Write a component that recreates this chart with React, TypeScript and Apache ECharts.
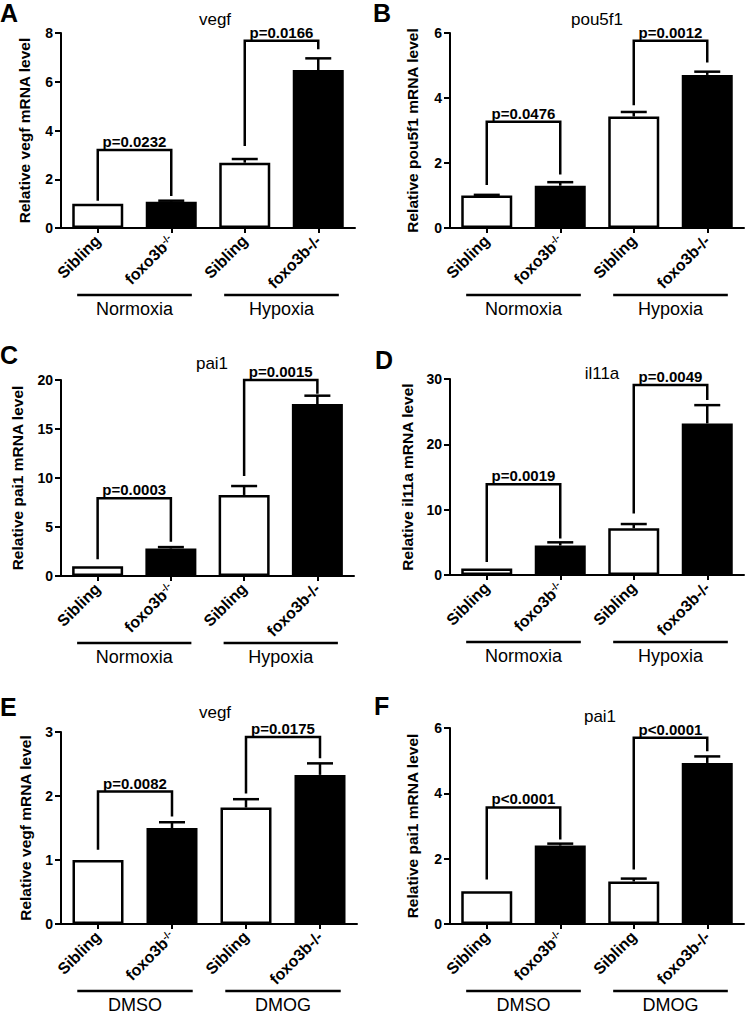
import React, { useEffect, useRef } from 'react';
import * as echarts from 'echarts';

const FONT = '"Liberation Sans", Arial, Helvetica, sans-serif';

// Shared category labels (main text + superscript part)
const xLabelMain = ['Sibling', 'foxo3b', 'Sibling', 'foxo3b-/-'];
const xLabelSup = ['', '-/-', '', ''];
const categories = xLabelMain.map((m, i) => m + xLabelSup[i]);
const groupSpans = [[0, 1], [2, 3]];
const hypoxiaGroups = ['Normoxia', 'Hypoxia'];
const drugGroups = ['DMSO', 'DMOG'];

// Panel A – vegf (Normoxia / Hypoxia)
const aTitle = 'vegf';
const aYName = 'Relative vegf mRNA level';
const aAxis = [0, 8, 2]; // min, max, interval
const aMeans = [1.0, 1.08, 2.68, 6.48];
const aUpper = [1.0, 1.12, 2.83, 6.96];
const aPLabels = ['p=0.0232', 'p=0.0166'];
const aBrackets = [[0, 1, 3.2, 1.12, 1.31], [2, 3, 7.68, 3.36, 7.33]];

// Panel B – pou5f1
const bTitle = 'pou5f1';
const bYName = 'Relative pou5f1 mRNA level';
const bAxis = [0, 6, 2];
const bMeans = [1.0, 1.3, 3.43, 4.71];
const bUpper = [1.02, 1.41, 3.57, 4.81];
const bPLabels = ['p=0.0476', 'p=0.0012'];
const bBrackets = [[0, 1, 3.27, 1.32, 1.65], [2, 3, 5.76, 3.78, 5.09]];

// Panel C – pai1
const cTitle = 'pai1';
const cYName = 'Relative pai1 mRNA level';
const cAxis = [0, 20, 5];
const cMeans = [1.0, 2.8, 8.27, 17.55];
const cUpper = [1.0, 2.95, 9.18, 18.4];
const cPLabels = ['p=0.0003', 'p=0.0015'];
const cBrackets = [[0, 1, 7.93, 1.7, 3.5], [2, 3, 20.0, 10.2, 18.6]];

// Panel D – il11a
const dTitle = 'il11a';
const dYName = 'Relative il11a mRNA level';
const dAxis = [0, 30, 10];
const dMeans = [1.0, 4.5, 7.15, 23.2];
const dUpper = [1.0, 5.0, 7.8, 26.0];
const dPLabels = ['p=0.0019', 'p=0.0049'];
const dBrackets = [[0, 1, 13.9, 2.0, 5.6], [2, 3, 29.1, 9.4, 26.8]];

// Panel E – vegf (DMSO / DMOG)
const eTitle = 'vegf';
const eYName = 'Relative vegf mRNA level';
const eAxis = [0, 3, 1];
const eMeans = [1.0, 1.5, 1.82, 2.33];
const eUpper = [1.0, 1.59, 1.95, 2.51];
const ePLabels = ['p=0.0082', 'p=0.0175'];
const eBrackets = [[0, 1, 2.07, 1.16, 1.68], [2, 3, 2.92, 2.04, 2.59]];

// Panel F – pai1 (DMSO / DMOG)
const fTitle = 'pai1';
const fYName = 'Relative pai1 mRNA level';
const fAxis = [0, 6, 2];
const fMeans = [1.0, 2.4, 1.3, 4.93];
const fUpper = [1.0, 2.46, 1.39, 5.13];
const fPLabels = ['p<0.0001', 'p<0.0001'];
const fBrackets = [[0, 1, 3.57, 1.36, 2.59], [2, 3, 5.7, 1.67, 5.29]];

const panels = [
  { letter: 'A', title: aTitle, yName: aYName, axis: aAxis, means: aMeans, upper: aUpper, pLabels: aPLabels, brackets: aBrackets, groups: hypoxiaGroups,
    grid: { left: 61, top: 33, width: 294, height: 195 }, nameGap: 29, letterPos: [0, 13], titlePos: [215, 19] },
  { letter: 'B', title: bTitle, yName: bYName, axis: bAxis, means: bMeans, upper: bUpper, pLabels: bPLabels, brackets: bBrackets, groups: hypoxiaGroups,
    grid: { left: 450, top: 33, width: 294, height: 195 }, nameGap: 30, letterPos: [373, 13], titlePos: [597, 19] },
  { letter: 'C', title: cTitle, yName: cYName, axis: cAxis, means: cMeans, upper: cUpper, pLabels: cPLabels, brackets: cBrackets, groups: hypoxiaGroups,
    grid: { left: 61, top: 380, width: 293, height: 196 }, nameGap: 36, letterPos: [0, 355], titlePos: [212, 363] },
  { letter: 'D', title: dTitle, yName: dYName, axis: dAxis, means: dMeans, upper: dUpper, pLabels: dPLabels, brackets: dBrackets, groups: hypoxiaGroups,
    grid: { left: 450, top: 379, width: 294, height: 196 }, nameGap: 35, letterPos: [375, 360], titlePos: [602, 373] },
  { letter: 'E', title: eTitle, yName: eYName, axis: eAxis, means: eMeans, upper: eUpper, pLabels: ePLabels, brackets: eBrackets, groups: drugGroups,
    grid: { left: 61, top: 732, width: 296, height: 192 }, nameGap: 28, letterPos: [0, 707], titlePos: [215, 712] },
  { letter: 'F', title: fTitle, yName: fYName, axis: fAxis, means: fMeans, upper: fUpper, pLabels: fPLabels, brackets: fBrackets, groups: drugGroups,
    grid: { left: 450, top: 728, width: 294, height: 196 }, nameGap: 30, letterPos: [374, 706], titlePos: [600, 716] },
];

const LW = 2.5;

function renderError(params: any, api: any) {
  const x = api.value(0);
  const m = api.value(1);
  const u = api.value(2);
  if (!(u > m)) return { type: 'group', children: [] };
  const p1 = api.coord([x, m]);
  const p2 = api.coord([x, u]);
  return {
    type: 'group',
    children: [
      { type: 'line', shape: { x1: p1[0], y1: p1[1], x2: p2[0], y2: p2[1] }, style: { stroke: '#000', lineWidth: LW } },
      { type: 'line', shape: { x1: p2[0] - 13, y1: p2[1], x2: p2[0] + 13, y2: p2[1] }, style: { stroke: '#000', lineWidth: LW } },
    ],
  };
}

function makeBracketRender(labels: string[]) {
  return (params: any, api: any) => {
    const a = api.value(0);
    const b = api.value(1);
    const top = api.value(2);
    const le = api.value(3);
    const re = api.value(4);
    const pl = api.coord([a, le]);
    const pt = api.coord([a, top]);
    const pr = api.coord([b, top]);
    const pre = api.coord([b, re]);
    return {
      type: 'group',
      children: [
        { type: 'polyline', shape: { points: [pl, pt, pr, pre] }, style: { stroke: '#000', lineWidth: LW, fill: null } },
        {
          type: 'text',
          x: (pt[0] + pr[0]) / 2,
          y: pt[1] - 1,
          style: {
            text: labels[params.dataIndex],
            font: `bold 15px ${FONT}`,
            fill: '#000',
            align: 'center', textAlign: 'center',
            verticalAlign: 'bottom', textVerticalAlign: 'bottom',
          },
        },
      ],
    };
  };
}

function makeGroupRender(names: string[]) {
  return (params: any, api: any) => {
    const a = api.value(0);
    const b = api.value(1);
    const band = api.size([1, 0])[0];
    const p1 = api.coord([a, 0]);
    const p2 = api.coord([b, 0]);
    const y = p1[1];
    const x1 = p1[0] - 0.28 * band;
    const x2 = p2[0] + 0.28 * band;
    return {
      type: 'group',
      children: [
        { type: 'line', shape: { x1, y1: y + 67, x2, y2: y + 67 }, style: { stroke: '#000', lineWidth: LW } },
        {
          type: 'text',
          x: (x1 + x2) / 2,
          y: y + 81,
          style: {
            text: names[params.dataIndex],
            font: `18px ${FONT}`,
            fill: '#000',
            align: 'center', textAlign: 'center',
            verticalAlign: 'middle', textVerticalAlign: 'middle',
          },
        },
      ],
    };
  };
}

function buildOption() {
  const grids: any[] = [];
  const xAxes: any[] = [];
  const yAxes: any[] = [];
  const series: any[] = [];
  const graphics: any[] = [];

  panels.forEach((p, i) => {
    grids.push({ ...p.grid, containLabel: false, outerBoundsMode: 'none' });
    xAxes.push({
      type: 'category',
      gridIndex: i,
      data: categories,
      axisLine: { show: true, lineStyle: { color: '#000', width: 2 } },
      axisTick: { show: true, alignWithLabel: true, length: 5, lineStyle: { color: '#000', width: 2 } },
      axisLabel: {
        interval: 0,
        rotate: 45,
        margin: 10,
        hideOverlap: false,
        formatter: (value: string, idx: number) =>
          xLabelSup[idx] ? `{t|${xLabelMain[idx]}}{s|${xLabelSup[idx]}}` : `{t|${xLabelMain[idx]}}`,
        rich: {
          t: { fontSize: 16, fontWeight: 'bold', fontFamily: FONT, color: '#000', verticalAlign: 'bottom' },
          s: { fontSize: 10, fontWeight: 'bold', fontFamily: FONT, color: '#000', verticalAlign: 'top' },
        },
      },
      splitLine: { show: false },
    });
    yAxes.push({
      type: 'value',
      gridIndex: i,
      min: p.axis[0],
      max: p.axis[1],
      interval: p.axis[2],
      name: p.yName,
      nameLocation: 'middle',
      nameGap: p.nameGap,
      nameMoveOverlap: false,
      nameTextStyle: { fontSize: 15.5, fontWeight: 'bold', fontFamily: FONT, color: '#000' },
      axisLine: { show: true, onZero: false, lineStyle: { color: '#000', width: 2 } },
      axisTick: { show: true, length: 6, lineStyle: { color: '#000', width: 2 } },
      axisLabel: { fontSize: 14, fontWeight: 'bold', fontFamily: FONT, color: '#000', margin: 8 },
      splitLine: { show: false },
    });
    series.push({
      type: 'bar',
      xAxisIndex: i,
      yAxisIndex: i,
      barWidth: 51,
      z: 2,
      data: p.means.map((v, k) => ({
        value: v,
        itemStyle: k % 2 === 0
          ? { color: '#fff', borderColor: '#000', borderWidth: LW }
          : { color: '#000', borderColor: '#000', borderWidth: 0 },
      })),
    });
    series.push({
      type: 'custom',
      xAxisIndex: i,
      yAxisIndex: i,
      z: 3,
      clip: false,
      renderItem: renderError,
      encode: { x: 0, y: [1, 2] },
      data: p.means.map((v, k) => [k, v, p.upper[k]]),
    });
    series.push({
      type: 'custom',
      xAxisIndex: i,
      yAxisIndex: i,
      z: 4,
      clip: false,
      renderItem: makeBracketRender(p.pLabels),
      encode: { x: [0, 1], y: [2, 3, 4] },
      data: p.brackets,
    });
    series.push({
      type: 'custom',
      xAxisIndex: i,
      yAxisIndex: i,
      z: 4,
      clip: false,
      renderItem: makeGroupRender(p.groups),
      encode: { x: [0, 1], y: 2 },
      data: groupSpans.map((s) => [s[0], s[1], 0]),
    });
    graphics.push({
      type: 'text',
      x: p.letterPos[0],
      y: p.letterPos[1],
      style: {
        text: p.letter,
        font: `bold 25px ${FONT}`,
        fill: '#000',
        align: 'left', textAlign: 'left',
        verticalAlign: 'middle', textVerticalAlign: 'middle',
      },
    });
    graphics.push({
      type: 'text',
      x: p.titlePos[0],
      y: p.titlePos[1],
      style: {
        text: p.title,
        font: `17px ${FONT}`,
        fill: '#000',
        align: 'center', textAlign: 'center',
        verticalAlign: 'middle', textVerticalAlign: 'middle',
      },
    });
  });

  return {
    animation: false,
    backgroundColor: '#fff',
    textStyle: { fontFamily: FONT, color: '#000' },
    grid: grids,
    xAxis: xAxes,
    yAxis: yAxes,
    series,
    graphic: graphics,
  };
}

export default function App() {
  const ref = useRef<HTMLDivElement>(null);
  useEffect(() => {
    if (!ref.current) return;
    const chart = echarts.init(ref.current, null, { renderer: 'svg' });
    chart.setOption(buildOption() as any);
    return () => chart.dispose();
  }, []);
  return (
    <div
      ref={ref}
      style={{ position: 'absolute', left: 0, top: 0, width: 745, height: 1015, background: '#fff' }}
    />
  );
}
